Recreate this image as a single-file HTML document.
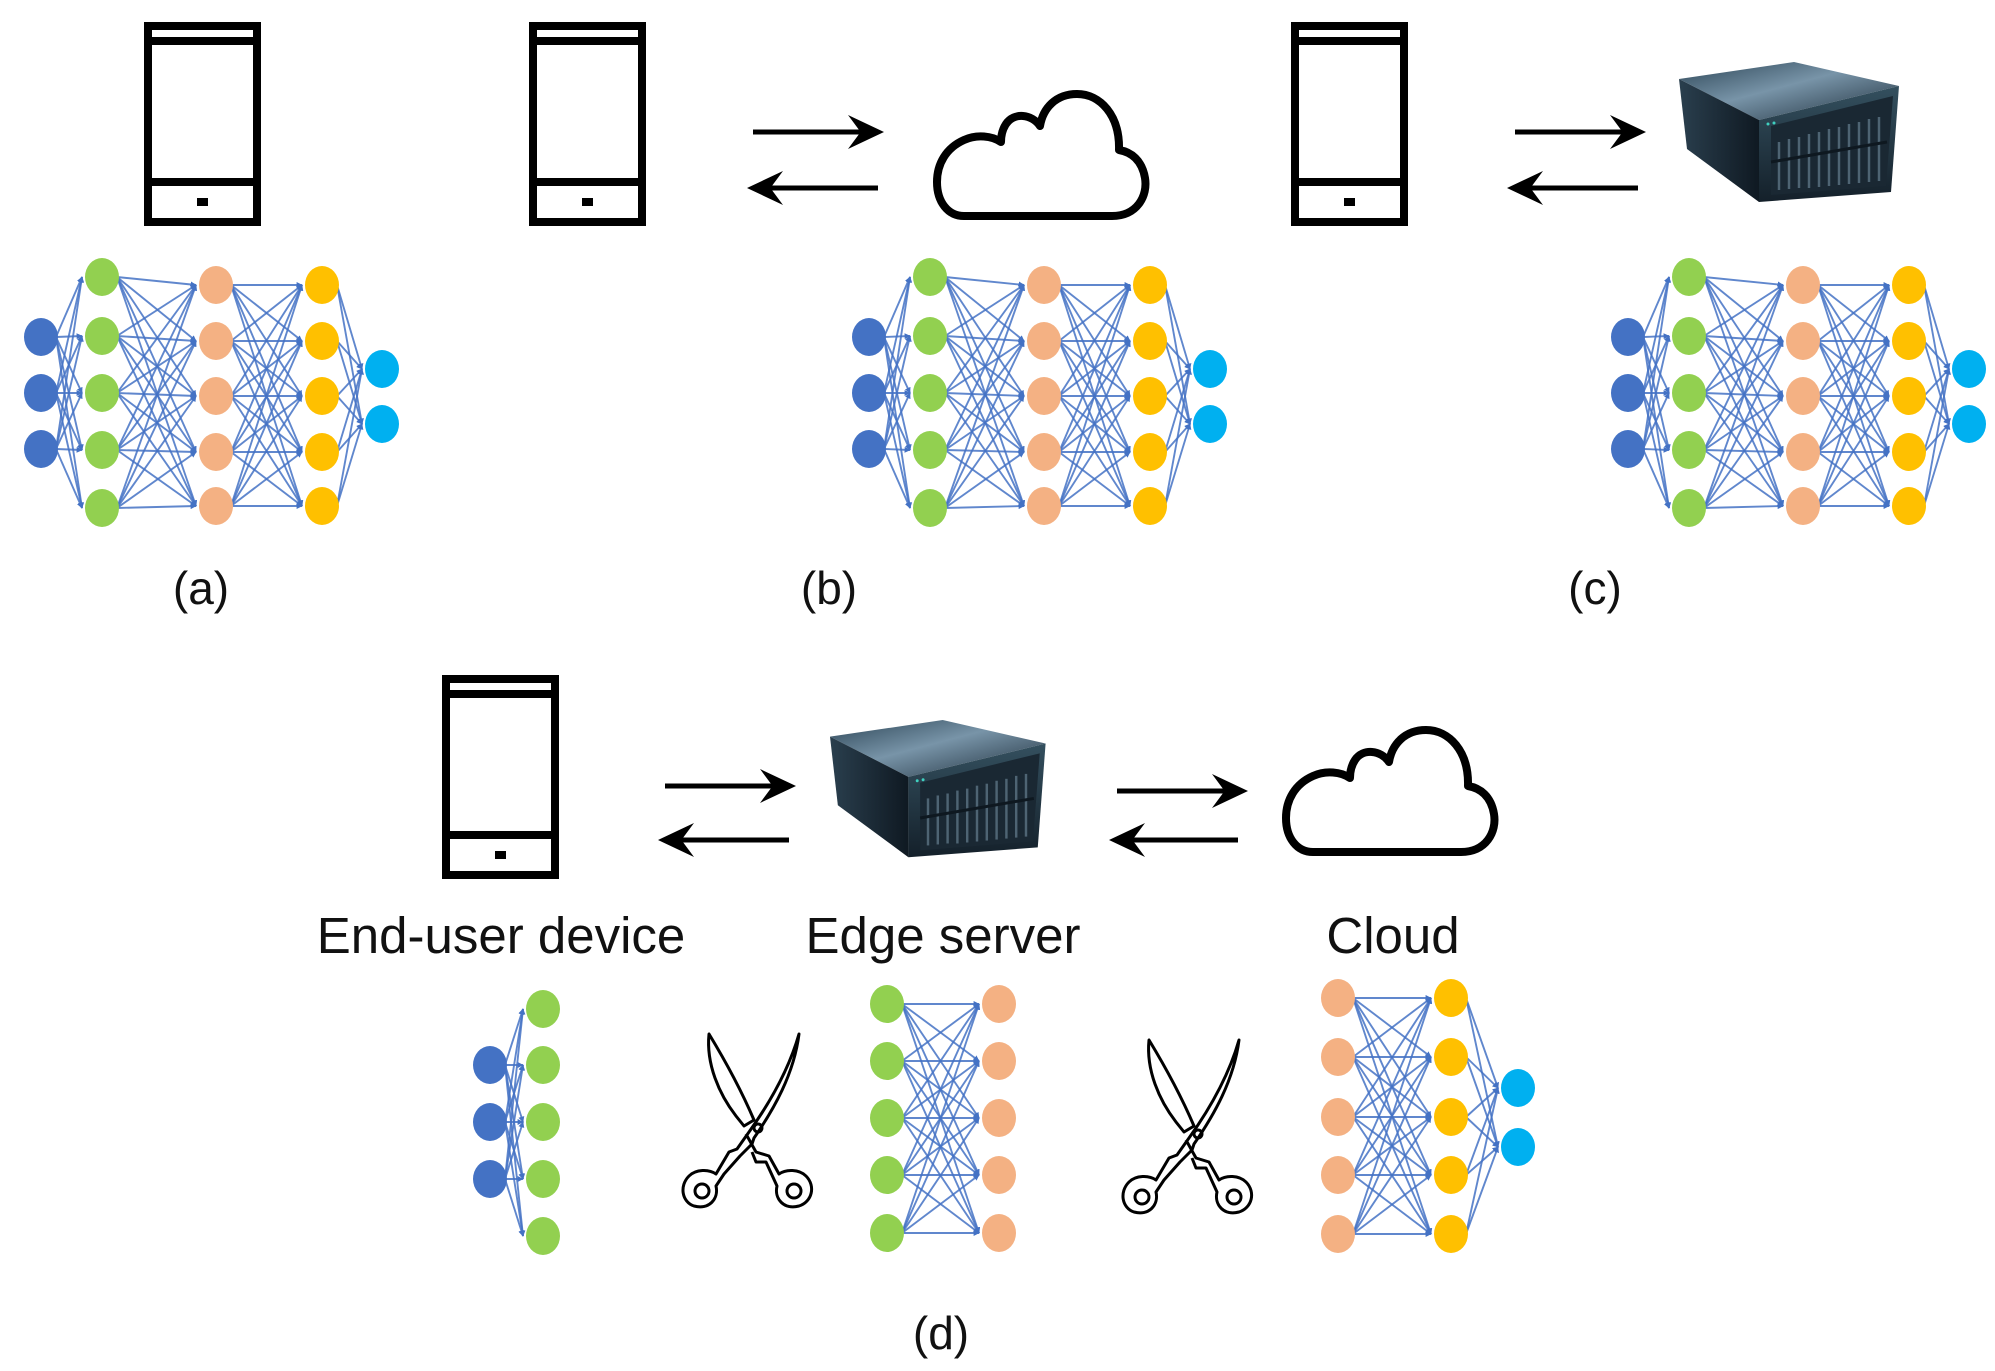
<!DOCTYPE html>
<html><head><meta charset="utf-8">
<style>
html,body{margin:0;padding:0;background:#fff;}
svg{display:block;}
text{font-family:"Liberation Sans",Arial,sans-serif;fill:#111;}
</style></head>
<body>
<svg id="s" width="1995" height="1371" viewBox="0 0 1995 1371" xmlns="http://www.w3.org/2000/svg">
<defs>
<marker id="ah" viewBox="0 0 10 10" refX="9" refY="5" markerWidth="6" markerHeight="6" orient="auto" markerUnits="userSpaceOnUse">
<path d="M0,0 L10,5 L0,10 z" fill="#4472c4"/>
</marker>
<linearGradient id="top" x1="0" y1="0" x2="1" y2="1">
<stop offset="0" stop-color="#2c4556"/><stop offset="0.45" stop-color="#7894a8"/><stop offset="1" stop-color="#1d2d3a"/>
</linearGradient>
<linearGradient id="left" x1="0" y1="0" x2="1" y2="0">
<stop offset="0" stop-color="#2a3f4e"/><stop offset="1" stop-color="#0f1922"/>
</linearGradient>
<linearGradient id="front" x1="0" y1="0" x2="0" y2="1">
<stop offset="0" stop-color="#34505f"/><stop offset="1" stop-color="#14202a"/>
</linearGradient>
<g id="phone">
<rect x="4" y="4" width="109" height="196" fill="#fff" stroke="#000" stroke-width="8"/>
<rect x="4" y="15" width="109" height="8" fill="#000"/>
<rect x="4" y="156" width="109" height="8" fill="#000"/>
<rect x="53" y="176" width="11" height="8" fill="#000"/>
</g>
<g id="cloud">
<path d="M32,126 L180,126 C205,126 216,106 213,88 C210,70 199,62 187,60 C188,25 168,4 145,4 C124,4 111,18 108,36 C100,24 82,22 74,34 C70,40 69,46 69,52 C60,46 45,44 32,50 C14,58 5,74 5,92 C5,112 16,126 32,126 Z" fill="#fff" stroke="#000" stroke-width="8" stroke-linejoin="round"/>
</g>
<g id="server">
<polygon points="0,17 115,0 220,24 80,58" fill="url(#top)"/>
<polygon points="0,17 80,58 80,140 8,87" fill="url(#left)"/>
<polygon points="80,58 220,24 212,130 80,140" fill="url(#front)"/>
<polygon points="92,64 214,34 207,124 92,133" fill="#1a2833"/>
<g stroke="#5b7383" stroke-width="2.5" opacity="0.8">
<line x1="100" y1="80" x2="100" y2="128"/><line x1="110" y1="77" x2="110" y2="127"/><line x1="120" y1="75" x2="120" y2="126"/><line x1="130" y1="72" x2="130" y2="126"/><line x1="140" y1="70" x2="140" y2="125"/><line x1="150" y1="67" x2="150" y2="124"/><line x1="160" y1="65" x2="160" y2="123"/><line x1="170" y1="62" x2="170" y2="122"/><line x1="180" y1="60" x2="180" y2="121"/><line x1="190" y1="57" x2="190" y2="120"/><line x1="200" y1="55" x2="200" y2="119"/>
</g>
<line x1="92" y1="100" x2="208" y2="80" stroke="#0e1820" stroke-width="3"/>
<circle cx="89" cy="62" r="1.5" fill="#3fd0c0"/><circle cx="95" cy="61" r="1.5" fill="#3fd0c0"/>
</g>
<g id="scis" fill="none" stroke="#000" stroke-width="3" stroke-linejoin="round">
<path d="M35,0 C32,30 45,60 62,82 L70,92 L80,86 C68,58 52,28 35,0 Z"/>
<path d="M125,0 C115,35 95,70 75,98 L63,115 L55,118 L42,140 C35,135 22,135 15,142 C5,152 8,168 20,172 C35,176 45,165 42,152 L50,140 L66,122 L78,110 L80,104 C100,75 120,40 125,0 Z"/>
<path d="M72,100 L82,118 L95,122 L105,140 C112,135 125,135 132,142 C142,152 138,168 125,172 C110,176 100,165 103,152 L92,128 L82,128 L78,118"/>
<circle cx="28" cy="157" r="7"/><circle cx="120" cy="157" r="7"/>
<circle cx="84" cy="94" r="4"/>
</g>
</defs>
<g id="nets"></g>

<use href="#phone" x="144" y="22"/>
<use href="#phone" x="529" y="22"/>
<use href="#phone" x="1291" y="22"/>
<use href="#phone" x="442" y="675"/>

<use href="#cloud" x="932" y="90"/>
<use href="#cloud" x="1281" y="726"/>

<use href="#server" transform="translate(1679,62)"/>
<use href="#server" transform="translate(830,720) scale(0.98,0.98)"/>

<g id="arrows"></g>

<use href="#scis" x="674" y="1034"/>
<use href="#scis" x="1114" y="1040"/>

<text x="201" y="604" font-size="46" text-anchor="middle">(a)</text>
<text x="829" y="604" font-size="46" text-anchor="middle">(b)</text>
<text x="1595" y="604" font-size="46" text-anchor="middle">(c)</text>
<text x="501" y="953" font-size="51" text-anchor="middle">End-user device</text>
<text x="943" y="953" font-size="51" text-anchor="middle">Edge server</text>
<text x="1393" y="953" font-size="51" text-anchor="middle">Cloud</text>
<text x="941" y="1349" font-size="46" text-anchor="middle">(d)</text>
</svg>
<script>
var NS="http://www.w3.org/2000/svg";
var nets=document.getElementById("nets");
function el(p,t,a){var e=document.createElementNS(NS,t);for(var k in a)e.setAttribute(k,a[k]);p.appendChild(e);return e;}
var C={b:"#4472c4",g:"#92d050",p:"#f4b183",y:"#ffc000",c:"#00b0f0"};
var RX=17,RY=19;
function net(layers){
  var g=el(nets,"g",{});
  for(var i=0;i<layers.length-1;i++){
    var A=layers[i],B=layers[i+1];
    for(var a=0;a<A.ys.length;a++)for(var b=0;b<B.ys.length;b++){
      el(g,"line",{x1:A.x+RX-2,y1:A.ys[a],x2:B.x-RX-3,y2:B.ys[b],stroke:"#4472c4","stroke-width":1.9,"stroke-opacity":0.85,"marker-end":"url(#ah)"});
    }
  }
  layers.forEach(function(L){L.ys.forEach(function(y){el(g,"ellipse",{cx:L.x,cy:y,rx:RX,ry:RY,fill:L.c});});});
}
var IN=[337,393,449],G=[277,336,393,450,508],P=[285,341,396,452,506],O=[369,424];
function full(X){net([{x:X,ys:IN,c:C.b},{x:X+61,ys:G,c:C.g},{x:X+175,ys:P,c:C.p},{x:X+281,ys:P,c:C.y},{x:X+341,ys:O,c:C.c}]);}
full(41);full(869);full(1628);
net([{x:490,ys:[1065,1122,1179],c:C.b},{x:543,ys:[1009,1065,1122,1179,1236],c:C.g}]);
net([{x:887,ys:[1004,1061,1118,1175,1233],c:C.g},{x:999,ys:[1004,1061,1118,1175,1233],c:C.p}]);
net([{x:1338,ys:[998,1057,1117,1175,1234],c:C.p},{x:1451,ys:[998,1057,1117,1175,1234],c:C.y},{x:1518,ys:[1088,1147],c:C.c}]);
var ar=document.getElementById("arrows");
function arrow(x1,x2,y){
  var d=x2>x1?1:-1;
  var L=36,W=17;
  el(ar,"line",{x1:x1,y1:y,x2:x2-d*L*0.6,y2:y,stroke:"#000","stroke-width":5});
  var bx=x2-d*L;
  el(ar,"path",{d:"M"+x2+","+y+" L"+bx+","+(y-W)+" L"+(x2-d*L*0.65)+","+y+" L"+bx+","+(y+W)+" Z",fill:"#000"});
}
arrow(753,884,132);arrow(878,747,188);
arrow(1515,1646,132);arrow(1638,1507,188);
arrow(665,796,786);arrow(789,658,840);
arrow(1117,1248,791);arrow(1238,1109,840);
</script>
</body></html>
